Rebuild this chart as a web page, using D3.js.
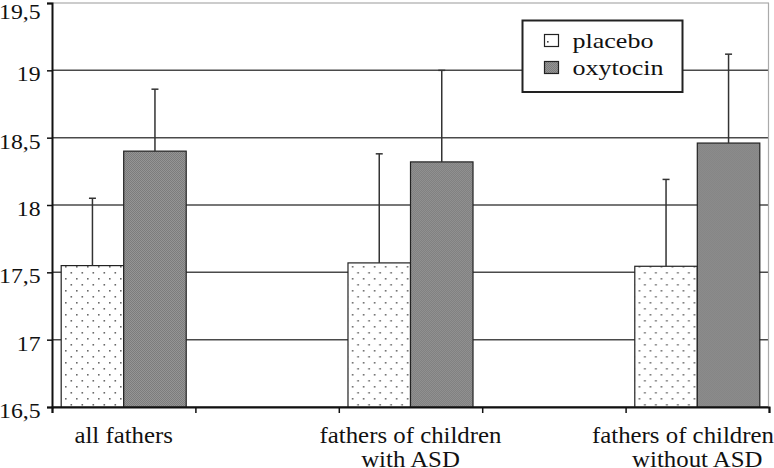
<!DOCTYPE html>
<html>
<head>
<meta charset="utf-8">
<script src="https://cdn.jsdelivr.net/npm/d3@7"></script>
<style>
  html, body { margin: 0; padding: 0; background: #fff; }
  svg { display: block; }
</style>
</head>
<body>
<svg id="chart" width="774" height="468"></svg>
<script>
// ---- data ----
const categories = ["all fathers", "", "fathers of children with ASD", "", "fathers of children without ASD"];
const seriesNames = ["placebo", "oxytocin"];
const placebo = [17.55, null, 17.57, null, 17.545];
const oxytocin = [18.40, null, 18.32, null, 18.46];
const placeboErr = [0.50, null, 0.81, null, 0.645];
const oxytocinErr = [0.46, null, 0.68, null, 0.66];
const yTicks = [16.5, 17, 17.5, 18, 18.5, 19, 19.5];

// ---- layout ----
const W = 774, H = 468;
const plotL = 52, plotR = 769, plotT = 3, plotB = 407;
const FONT = "'Liberation Serif', 'Times New Roman', serif";
const svg = d3.select("#chart");

const defs = svg.append("defs");
const dots = defs.append("pattern").attr("id", "dots")
  .attr("patternUnits", "userSpaceOnUse").attr("width", 11).attr("height", 12);
dots.append("rect").attr("width", 11).attr("height", 12).attr("fill", "#fff");
dots.append("rect").attr("x", 2).attr("y", 2).attr("width", 1.6).attr("height", 1.6).attr("fill", "#6a6a6a");
dots.append("rect").attr("x", 7.5).attr("y", 8).attr("width", 1.6).attr("height", 1.6).attr("fill", "#6a6a6a");

const grey = defs.append("pattern").attr("id", "grey")
  .attr("patternUnits", "userSpaceOnUse").attr("width", 2).attr("height", 2);
grey.append("rect").attr("width", 2).attr("height", 2).attr("fill", "#959595");
grey.append("rect").attr("width", 1).attr("height", 1).attr("fill", "#7c7c7c");
grey.append("rect").attr("x", 1).attr("y", 1).attr("width", 1).attr("height", 1).attr("fill", "#7c7c7c");

const legendDot = defs.append("pattern").attr("id", "ldot")
  .attr("patternUnits", "userSpaceOnUse").attr("width", 15).attr("height", 12);
legendDot.append("rect").attr("width", 15).attr("height", 12).attr("fill", "#fff");
legendDot.append("rect").attr("x", 7).attr("y", 5).attr("width", 1.6).attr("height", 1.6).attr("fill", "#444");

const fills = { placebo: "url(#dots)", oxytocin: "url(#grey)" };

// ---- scales ----
const y = d3.scaleLinear().domain([16.5, 19.5]).range([plotB, plotT]);
const x0 = d3.scaleBand().domain(d3.range(categories.length)).range([plotL, plotR]).padding(0);
const x1 = d3.scaleBand().domain(seriesNames).range([0, x0.bandwidth()]).paddingInner(0).paddingOuter(0.147);
const xEdges = d3.scaleLinear().domain([0, categories.length]).range([plotL, plotR]);

const locale = d3.formatLocale({ decimal: ",", thousands: ".", grouping: [3], currency: ["", ""] });
const fmt = locale.format("~g");

// ---- grid ----
svg.append("g").selectAll("line").data(yTicks).join("line")
  .attr("x1", plotL).attr("x2", plotR)
  .attr("y1", d => y(d)).attr("y2", d => y(d))
  .attr("stroke", d => d === 19.5 ? "#999" : "#4a4a4a")
  .attr("stroke-width", d => d === 19.5 ? 1.2 : 1.5);

// right border of plot area
svg.append("line").attr("x1", plotR - 0.5).attr("x2", plotR - 0.5)
  .attr("y1", plotT).attr("y2", plotB).attr("stroke", "#aaa").attr("stroke-width", 1.2);

// ---- bars ----
const rows = categories.map((c, i) => ({
  i, c,
  vals: [
    { s: "placebo", v: placebo[i], e: placeboErr[i] },
    { s: "oxytocin", v: oxytocin[i], e: oxytocinErr[i] }
  ].filter(d => d.v != null)
}));

const groups = svg.append("g").selectAll("g").data(rows).join("g")
  .attr("transform", d => `translate(${x0(d.i)},0)`);

groups.selectAll("rect").data(d => d.vals).join("rect")
  .attr("x", d => x1(d.s)).attr("width", x1.bandwidth())
  .attr("y", d => y(d.v)).attr("height", d => y(16.5) - y(d.v))
  .attr("fill", d => fills[d.s])
  .attr("stroke", "#222").attr("stroke-width", 1.2);

// error bars (upper only)
groups.selectAll("g.err").data(d => d.vals).join("g").attr("class", "err")
  .each(function(d) {
    const g = d3.select(this);
    const cx = x1(d.s) + x1.bandwidth() / 2;
    g.append("line").attr("x1", cx).attr("x2", cx)
      .attr("y1", y(d.v)).attr("y2", y(d.v + d.e))
      .attr("stroke", "#333").attr("stroke-width", 1.5);
    g.append("line").attr("x1", cx - 3.5).attr("x2", cx + 3.5)
      .attr("y1", y(d.v + d.e)).attr("y2", y(d.v + d.e))
      .attr("stroke", "#333").attr("stroke-width", 1.5);
  });

// ---- axes ----
const yAxis = svg.append("g").attr("transform", `translate(${plotL},0)`)
  .call(d3.axisLeft(y).tickValues(yTicks).tickFormat(fmt).tickSize(5).tickPadding(0));
yAxis.attr("font-family", null).attr("font-size", null);
yAxis.select(".domain").attr("stroke", "#111").attr("stroke-width", 2);
yAxis.selectAll(".tick line").attr("stroke", "#111").attr("stroke-width", 1.5);
// labels: baseline ~10px below the gridline, kept inside the picture at the top
yAxis.selectAll(".tick text")
  .attr("x", -10.6)
  .attr("dy", null)
  .attr("y", d => Math.max(10.5, 18 - y(d)))
  .attr("transform", "scale(1.08,1)")
  .style("font-family", FONT)
  .style("font-size", "22px").attr("fill", "#111");

const xAxis = svg.append("g").attr("transform", `translate(0,${plotB})`)
  .call(d3.axisBottom(xEdges).tickValues(d3.range(categories.length + 1)).tickFormat("").tickSize(6));
xAxis.select(".domain").attr("stroke", "#111").attr("stroke-width", 2);
xAxis.selectAll(".tick line").attr("stroke", "#111").attr("stroke-width", 1.5);

// ---- category labels (word-wrapped) ----
const labelSize = 23, labelScale = 1.08, maxLineW = 195;
const measure = svg.append("text").style("font-family", FONT).style("font-size", labelSize + "px").attr("opacity", 0);
function wrap(str) {
  const words = str.split(" ");
  const lines = [];
  let cur = "";
  words.forEach(w => {
    const t = cur ? cur + " " + w : w;
    measure.text(t);
    if (measure.node().getComputedTextLength() * labelScale > maxLineW && cur) {
      lines.push(cur); cur = w;
    } else cur = t;
  });
  if (cur) lines.push(cur);
  return lines;
}
const labelG = svg.append("g");
rows.filter(r => r.c).forEach(r => {
  const lines = wrap(r.c);
  lines.forEach((ln, k) => {
    measure.text(ln);
    const w = measure.node().getComputedTextLength() * labelScale;
    let cx = x0(r.i) + x0.bandwidth() / 2;
    if (cx + w / 2 > W) cx = W - w / 2;
    labelG.append("text")
      .attr("transform", `translate(${cx},${443 + k * 23.5}) scale(${labelScale},1)`)
      .attr("text-anchor", "middle")
      .attr("fill", "#111")
      .style("font-family", FONT)
      .style("font-size", labelSize + "px")
      .text(ln);
  });
});
measure.remove();

// ---- legend ----
const lg = svg.append("g");
lg.append("rect").attr("x", 522.5).attr("y", 20.5).attr("width", 160).attr("height", 71.5)
  .attr("fill", "#fff").attr("stroke", "#222").attr("stroke-width", 2);
const legendFill = { placebo: "url(#ldot)", oxytocin: "url(#grey)" };
seriesNames.forEach((s, i) => {
  lg.append("rect").attr("x", 544.5).attr("y", 34.5 + i * 27).attr("width", 14).attr("height", 12)
    .attr("fill", legendFill[s]).attr("stroke", "#222").attr("stroke-width", 1.2);
  lg.append("text")
    .attr("transform", `translate(572.5,${47.5 + i * 27.5}) scale(1.24,1)`)
    .attr("fill", "#111")
    .style("font-family", FONT)
    .style("font-size", "21px")
    .text(s);
});
</script>
</body>
</html>
